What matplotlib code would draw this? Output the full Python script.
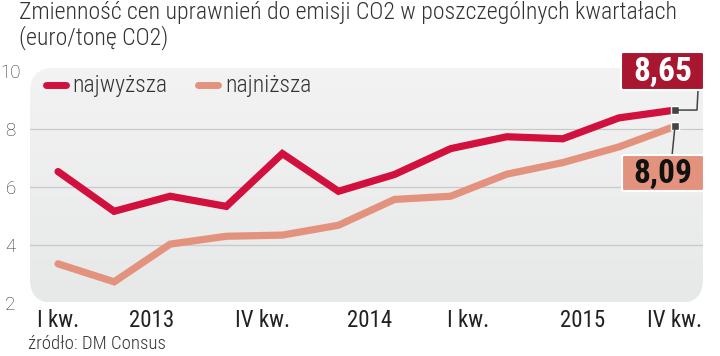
import matplotlib
matplotlib.use("Agg")
import matplotlib.pyplot as plt
import numpy as np
from matplotlib.patches import FancyBboxPatch

# Data
highest = [6.53, 5.16, 5.68, 5.33, 7.15, 5.85, 6.43, 7.32, 7.73, 7.66, 8.38, 8.65]
lowest = [3.35, 2.73, 4.03, 4.30, 4.34, 4.68, 5.57, 5.68, 6.44, 6.84, 7.38, 8.09]
tick_pos = [0, 1.67, 3.64, 5.55, 7.31, 9.36, 11]
tick_labels = ["I kw.", "2013", "IV kw.", "2014", "I kw.", "2015", "IV kw."]
yticks = [2, 4, 6, 8, 10]
series_names = ["najwyższa", "najniższa"]
title = "Zmienność cen uprawnień do emisji CO2 w poszczególnych kwartałach\n(euro/tonę CO2)"
source = "źródło: DM Consus"

RED = "#d2103e"
SALMON = "#e3937d"
BOXRED = "#a8172f"
TXT = "#333333"
COND = ["Roboto Condensed", "Fira Sans Condensed", "DejaVu Sans"]

fig = plt.figure(figsize=(7.2, 3.56), dpi=100)
fig.patch.set_facecolor("white")
W, H = 720, 356
L, R, T, B = 30, 703, 68, 303
ax = fig.add_axes([L / W, 1 - B / H, (R - L) / W, (B - T) / H])
ax.set_xlim(-0.5, 11.5)
ax.set_ylim(2.05, 10.1)
for s in ax.spines.values():
    s.set_visible(False)
ax.set_facecolor("none")

panel = FancyBboxPatch((0, 0), 1, 1, boxstyle="round,pad=0,rounding_size=0.035",
                       transform=ax.transAxes, facecolor="none", edgecolor="none",
                       mutation_aspect=(R - L) / (B - T))
ax.add_patch(panel)
grad = np.linspace(0, 1, 256).reshape(-1, 1)
im = ax.imshow(grad, extent=[-0.5, 11.5, 2.05, 10.1], aspect="auto",
               cmap=matplotlib.colors.LinearSegmentedColormap.from_list("g", ["#e7e8e8", "#f3f3f3"]),
               origin="lower", zorder=0)
im.set_clip_path(panel)

for g in [4, 6, 8]:
    ax.axhline(g, color="#c9c9c9", lw=0.9, zorder=1)

x = np.arange(len(highest))
ax.plot(x, lowest, color=SALMON, lw=5.2, solid_capstyle="round", solid_joinstyle="miter", zorder=3)
ax.plot(x, highest, color=RED, lw=5.2, solid_capstyle="round", solid_joinstyle="miter", zorder=4)

ax.set_yticks(yticks)
ax.set_yticklabels([str(v) for v in yticks], fontsize=13.5, color=TXT, family="Roboto", fontweight="light")
for lab in ax.get_yticklabels():
    lab.set_horizontalalignment("center")
ax.tick_params(axis="y", length=0, pad=14)
ax.set_xticks(tick_pos)
ax.set_xticklabels(tick_labels, fontsize=16.5, color="#222222", family=COND, fontweight="normal")
ax.tick_params(axis="x", length=0, pad=4)

for (x0, x1, tx), col, name in [((46, 66, 72), RED, series_names[0]), ((198, 218, 225), SALMON, series_names[1])]:
    fig.add_artist(plt.Line2D([x0 / W, x1 / W], [1 - 85 / H] * 2, color=col, lw=5, solid_capstyle="round"))
    fig.text(tx / W, 1 - 92 / H, name, fontsize=17, color=TXT, family=COND, fontweight="light",
             va="baseline", ha="left")

xe = x[-1]
ax.plot([xe], [highest[-1]], marker="s", ms=6, color="#444444", mec="white", mew=1, zorder=6)
ax.plot([xe], [lowest[-1]], marker="s", ms=6, color="#444444", mec="white", mew=1, zorder=6)

def fx(px):
    return px / W
def fy(py):
    return 1 - py / H

ye_hi = fig.transFigure.inverted().transform(ax.transData.transform((xe, highest[-1])))
ye_lo = fig.transFigure.inverted().transform(ax.transData.transform((xe, lowest[-1])))
fig.add_artist(plt.Line2D([ye_hi[0], fx(697), fx(698)], [ye_hi[1], ye_hi[1], fy(90)], color="#444444", lw=1.1, zorder=5))
fig.add_artist(plt.Line2D([ye_lo[0], fx(672)], [ye_lo[1], fy(156)], color="#444444", lw=1.1, zorder=5))

for (bx0, by0, bx1, by1), fc, tc, val in [((621, 52, 704, 90), BOXRED, "white", highest[-1]),
                                          ((622, 155, 704, 191), SALMON, "#111111", lowest[-1])]:
    box = FancyBboxPatch((fx(bx0), fy(by1)), (bx1 - bx0) / W, (by1 - by0) / H,
                         boxstyle="round,pad=0,rounding_size=0.004", transform=fig.transFigure,
                         facecolor=fc, edgecolor="white", lw=1.5, zorder=7)
    fig.add_artist(box)
    fig.text(fx((bx0 + bx1) / 2), fy((by0 + by1) / 2 + 1), f"{val:.2f}".replace(".", ","),
             fontsize=24, fontweight="bold", color=tc, family=COND, ha="center", va="center", zorder=8)

fig.text(fx(19), fy(1), title, fontsize=17.2, color=TXT, family=COND, fontweight="light",
         va="top", ha="left", linespacing=1.05)
fig.text(fx(28), fy(349), source, fontsize=13.5, color=TXT, family=COND, fontweight="light",
         va="baseline", ha="left")

fig.savefig("out.png", dpi=100, facecolor="white")
